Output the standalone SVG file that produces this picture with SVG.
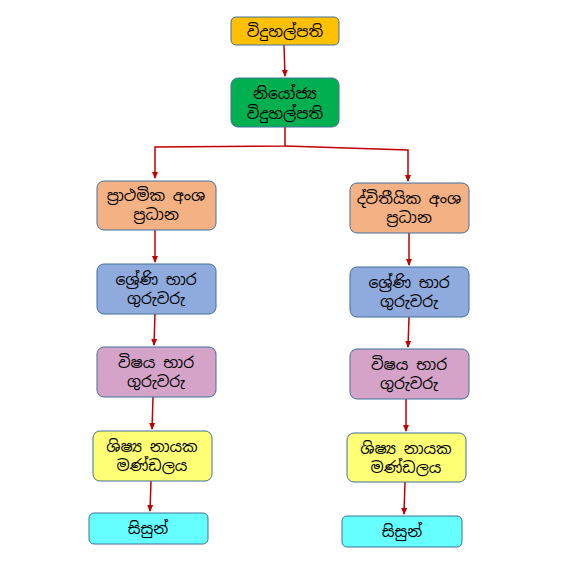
<svg xmlns="http://www.w3.org/2000/svg" width="569" height="561" viewBox="0 0 569 561">
<style>
.b{stroke:#41719C;stroke-width:1}
.t{font-family:"Noto Sans Sinhala","Iskoola Pota","Noto Sans",sans-serif;font-size:15.5px;font-weight:normal;fill:#000;text-anchor:middle}
.c{stroke:#C00000;stroke-width:1.5;fill:none}
</style>
<defs>
<marker id="a" markerWidth="8" markerHeight="8" refX="6" refY="4" orient="auto" markerUnits="userSpaceOnUse">
<path d="M0,1 L7,4 L0,7 Z" fill="#C00000"/>
</marker>
</defs>
<rect width="569" height="561" fill="#fff"/>
<g id="connectors">
<line class="c" x1="284" y1="45" x2="285" y2="76" marker-end="url(#a)"/>
<polyline class="c" points="285,127 285,146 155,147 155,178" marker-end="url(#a)"/>
<polyline class="c" points="285,146 408,150 408,181" marker-end="url(#a)"/>
<line class="c" x1="155" y1="230" x2="155" y2="262" marker-end="url(#a)"/>
<line class="c" x1="155" y1="314" x2="154" y2="345" marker-end="url(#a)"/>
<line class="c" x1="153" y1="397" x2="152" y2="429" marker-end="url(#a)"/>
<line class="c" x1="151" y1="481" x2="150" y2="511" marker-end="url(#a)"/>
<line class="c" x1="409" y1="233" x2="409" y2="265" marker-end="url(#a)"/>
<line class="c" x1="409" y1="317" x2="408" y2="347" marker-end="url(#a)"/>
<line class="c" x1="406" y1="399" x2="406" y2="431" marker-end="url(#a)"/>
<line class="c" x1="405" y1="482" x2="404" y2="514" marker-end="url(#a)"/>
</g>
<g id="n1"><rect class="b" x="231" y="17" width="108" height="28" rx="5" fill="#FFC000"/><text class="t" x="285" y="37">විදුහල්පති</text></g>
<g id="n2"><rect class="b" x="231" y="78" width="108" height="49" rx="7" fill="#00B050"/><text class="t" x="285" y="99">නියෝජ්‍ය</text><text class="t" x="285" y="119">විදුහල්පති</text></g>
<g id="l1"><rect class="b" x="97" y="181" width="119" height="49" rx="7" fill="#F4B183"/><text class="t" x="156" y="201">ප්‍රාථමික අංශ</text><text class="t" x="156" y="220">ප්‍රධාන</text></g>
<g id="l2"><rect class="b" x="97" y="264" width="119" height="50" rx="7" fill="#8FAADC"/><text class="t" x="156" y="285">ශ්‍රේණි භාර</text><text class="t" x="156" y="304">ගුරුවරු</text></g>
<g id="l3"><rect class="b" x="97" y="347" width="119" height="50" rx="7" fill="#D5A3C8"/><text class="t" x="156" y="368">විෂය භාර</text><text class="t" x="156" y="387">ගුරුවරු</text></g>
<g id="l4"><rect class="b" x="93" y="431" width="119" height="50" rx="7" fill="#FFFF75"/><text class="t" x="152" y="452">ශිෂ්‍ය නායක</text><text class="t" x="152" y="471">මණ්ඩලය</text></g>
<g id="l5"><rect class="b" x="89" y="513" width="119" height="31" rx="5" fill="#66FFFF"/><text class="t" x="148" y="534">සිසුන්</text></g>
<g id="r1"><rect class="b" x="350" y="183" width="119" height="50" rx="7" fill="#F4B183"/><text class="t" x="409" y="204">ද්විතීයික අංශ</text><text class="t" x="409" y="223">ප්‍රධාන</text></g>
<g id="r2"><rect class="b" x="350" y="267" width="119" height="50" rx="7" fill="#8FAADC"/><text class="t" x="409" y="288">ශ්‍රේණි භාර</text><text class="t" x="409" y="307">ගුරුවරු</text></g>
<g id="r3"><rect class="b" x="350" y="349" width="119" height="50" rx="7" fill="#D5A3C8"/><text class="t" x="409" y="370">විෂය භාර</text><text class="t" x="409" y="389">ගුරුවරු</text></g>
<g id="r4"><rect class="b" x="347" y="433" width="119" height="49" rx="7" fill="#FFFF75"/><text class="t" x="406" y="454">ශිෂ්‍ය නායක</text><text class="t" x="406" y="473">මණ්ඩලය</text></g>
<g id="r5"><rect class="b" x="342" y="516" width="120" height="31" rx="5" fill="#66FFFF"/><text class="t" x="402" y="537">සිසුන්</text></g>
</svg>
